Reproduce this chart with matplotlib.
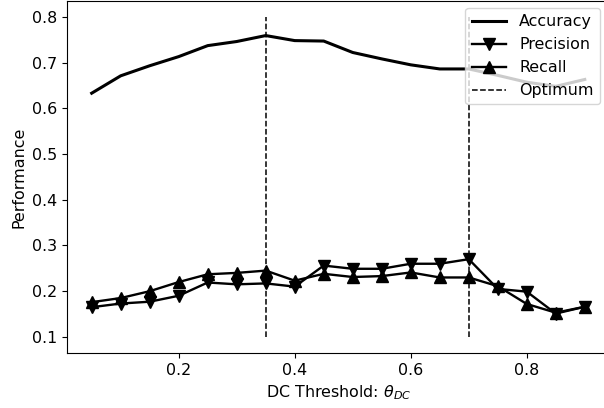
import numpy as np
import matplotlib
matplotlib.use('Agg')
import matplotlib.pyplot as plt

plt.rcParams['font.size'] = 11.4

# DC threshold values
thresholds = [0.05, 0.1, 0.15, 0.2, 0.25, 0.3, 0.35, 0.4, 0.45,
              0.5, 0.55, 0.6, 0.65, 0.7, 0.75, 0.8, 0.85, 0.9]

accuracy = [0.633, 0.671, 0.693, 0.713, 0.737, 0.746, 0.759, 0.748, 0.747,
            0.722, 0.708, 0.695, 0.686, 0.686, 0.672, 0.657, 0.648, 0.663]
precision = [0.165, 0.173, 0.177, 0.190, 0.219, 0.215, 0.217, 0.210, 0.256,
             0.249, 0.249, 0.260, 0.260, 0.270, 0.205, 0.199, 0.151, 0.166]
recall = [0.176, 0.185, 0.200, 0.220, 0.237, 0.240, 0.245, 0.223, 0.238,
          0.231, 0.233, 0.241, 0.230, 0.230, 0.211, 0.172, 0.153, 0.166]

optimum = [0.35, 0.7]

fig = plt.figure(figsize=(6.04, 4.08), dpi=100)
ax = fig.add_axes([0.111, 0.135, 0.898, 0.863])

ax.plot(thresholds, accuracy, color='black', lw=2.2, label='Accuracy')
ax.plot(thresholds, precision, color='black', lw=1.7, marker='v', ms=8, label='Precision')
ax.plot(thresholds, recall, color='black', lw=1.7, marker='^', ms=8, label='Recall')
for i, xo in enumerate(optimum):
    ax.vlines(xo, 0.1, 0.8, colors='black', linestyles='--', lw=1.1,
              label='Optimum' if i == 0 else None)

ax.set_xticks([0.2, 0.4, 0.6, 0.8])
ax.set_xlabel(r'DC Threshold: $\theta_{DC}$')
ax.set_ylabel('Performance')
ax.legend(loc='upper right', bbox_to_anchor=(600 / 604, 1 - 8 / 408),
          bbox_transform=fig.transFigure, borderaxespad=0, handlelength=2.2)

fig.savefig('out.png', dpi=100)
